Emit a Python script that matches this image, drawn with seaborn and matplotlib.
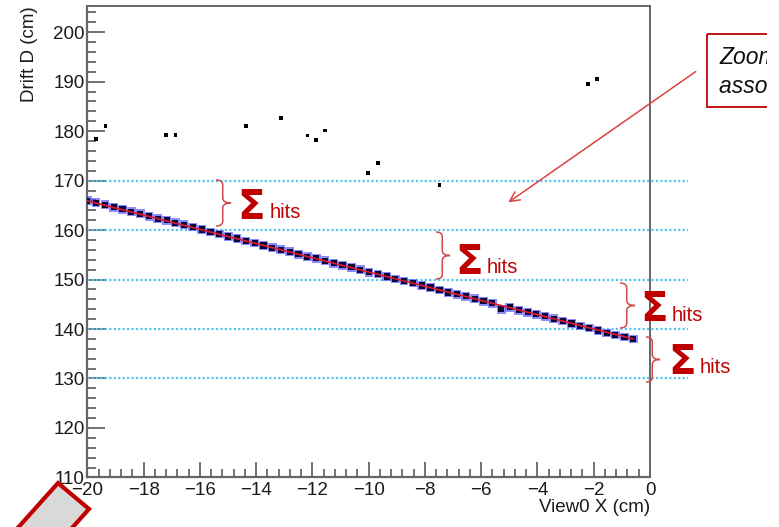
import numpy as np
import pandas as pd
import seaborn as sns
import matplotlib
matplotlib.use("Agg")
import matplotlib.pyplot as plt
from matplotlib.path import Path
from matplotlib.patches import PathPatch, Polygon, Rectangle, FancyArrowPatch
from matplotlib.transforms import Affine2D
from matplotlib.ticker import MultipleLocator

# ---- hits on the reconstructed track (View0 X vs drift distance) ----
track_x = [-20.00, -19.69, -19.37, -19.06, -18.75, -18.44, -18.12, -17.81, -17.50, -17.18,
           -16.87, -16.56, -16.25, -15.93, -15.62, -15.31, -14.99, -14.68, -14.37, -14.05,
           -13.74, -13.43, -13.12, -12.80, -12.49, -12.18, -11.86, -11.55, -11.24, -10.93,
           -10.61, -10.30, -9.99, -9.67, -9.36, -9.05, -8.74, -8.42, -8.11, -7.80,
           -7.48, -7.17, -6.86, -6.55, -6.23, -5.92, -5.61, -5.29, -4.98, -4.67,
           -4.35, -4.04, -3.73, -3.42, -3.10, -2.79, -2.48, -2.16, -1.85, -1.54,
           -1.23, -0.91, -0.60]
track_y = [165.9, 165.5, 165.1, 164.6, 164.2, 163.7, 163.3, 162.8, 162.3, 162.0,
           161.5, 161.1, 160.6, 160.1, 159.6, 159.2, 158.7, 158.3, 157.8, 157.4,
           156.9, 156.4, 156.0, 155.6, 155.1, 154.6, 154.3, 153.8, 153.3, 152.9,
           152.5, 152.0, 151.5, 151.1, 150.6, 150.1, 149.7, 149.3, 148.8, 148.4,
           147.9, 147.4, 147.0, 146.6, 146.1, 145.6, 145.2, 144.0, 144.4, 143.8,
           143.4, 143.0, 142.6, 142.1, 141.6, 141.1, 140.6, 140.2, 139.7, 139.2,
           138.8, 138.4, 138.0]

# ---- unassociated hits ----
noise_x = [-19.69, -19.35, -17.21, -16.86, -14.37, -13.12, -12.17, -11.87, -11.56,
           -10.02, -9.67, -7.48, -2.20, -1.88]
noise_y = [178.4, 181.0, 179.2, 179.2, 181.0, 182.7, 179.1, 178.2, 180.1,
           171.5, 173.6, 169.1, 189.5, 190.5]

# ---- straight-line fit through the track ----
fit_x = [-20.0, -0.6]
fit_y = [165.9, 138.0]

# ---- drift slices used for summing hits ----
slice_levels = [130, 140, 150, 160, 170]

track = pd.DataFrame({"x": track_x, "y": track_y})
noise = pd.DataFrame({"x": noise_x, "y": noise_y})
fit = pd.DataFrame({"x": fit_x, "y": fit_y})

sns.set_theme(style="white")
plt.rcParams["font.family"] = ["Liberation Sans", "DejaVu Sans"]

W, H = 779, 527
fig = plt.figure(figsize=(W / 100, H / 100), dpi=100)
fig.patch.set_facecolor("white")
# pixel coordinates with origin at top-left
pix = Affine2D().scale(1, -1).translate(0, H)

x0, x1, y0, y1 = 87.3, 650.0, 6.0, 477.4
ax = fig.add_axes([x0 / W, 1 - y1 / H, (x1 - x0) / W, (y1 - y0) / H])
ax.set_facecolor("white")

# slice boundaries
for lv in slice_levels:
    ax.axhline(lv, xmin=0, xmax=(688 - x0) / (x1 - x0), color="#55c6f0",
               linestyle=(0, (1, 1)), lw=1.6, clip_on=False, zorder=1)

sns.scatterplot(data=noise, x="x", y="y", marker="s", s=7, color="black",
                edgecolor="none", ax=ax, zorder=3)
sns.scatterplot(data=track, x="x", y="y", marker="s", s=40, color="#4040ff",
                alpha=0.6, edgecolor="none", ax=ax, zorder=3)
sns.scatterplot(data=track, x="x", y="y", marker="s", s=20, color="#0a0a38",
                edgecolor="none", ax=ax, zorder=4)
sns.lineplot(data=fit, x="x", y="y", color="#e0182c", lw=1.2, ax=ax, zorder=5)

ax.set_xlim(-20, 0)
ax.set_ylim(110, 205.3)
ax.xaxis.set_major_locator(MultipleLocator(2))
ax.xaxis.set_minor_locator(MultipleLocator(0.4))
ax.yaxis.set_major_locator(MultipleLocator(10))
ax.yaxis.set_minor_locator(MultipleLocator(2))
ax.set_xticks([t for t in range(-20, 1, 2)])
ax.set_yticks([t for t in range(110, 201, 10)])

tick_col = "#5a5a5a"
ax.tick_params(axis="y", which="major", direction="in", length=13, width=1.2,
               color=tick_col, labelsize=13.5, labelcolor="#1a1a1a", pad=2,
               left=True, right=False)
ax.tick_params(axis="y", which="minor", direction="in", length=6.5, width=1.2,
               color=tick_col, left=True, right=False)
ax.tick_params(axis="x", which="major", direction="in", length=11, width=1.2,
               color=tick_col, labelsize=13.5, labelcolor="#1a1a1a", pad=3,
               bottom=True, top=False)
ax.tick_params(axis="x", which="minor", direction="in", length=5.8, width=1.2,
               color=tick_col, bottom=True, top=False)
for side, lw in [("left", 1.6), ("bottom", 1.6), ("top", 1.4), ("right", 1.4)]:
    ax.spines[side].set_visible(True)
    ax.spines[side].set_color("#666666")
    ax.spines[side].set_linewidth(lw)

ax.set_xlabel("View0 X (cm)", fontsize=13.5, color="#1a1a1a", loc="right")
ax.set_ylabel("Drift D (cm)", fontsize=13.5, color="#1a1a1a", loc="top")
ax.xaxis.set_label_coords(1.0, -0.046)
ax.yaxis.set_label_coords(-0.087, 1.0)

# ---- curly braces with Σhits labels ----
red = "#c00000"


def brace(xl, yt, yb, w):
    xm = xl + w * 0.45
    ym = 0.5 * (yt + yb)
    r = 5
    verts = [(xl, yt), (xm, yt), (xm, yt + r),
             (xm, ym - r), (xm, ym), (xl + w, ym),
             (xm, ym), (xm, ym + r),
             (xm, yb - r), (xm, yb), (xl, yb)]
    codes = [Path.MOVETO, Path.CURVE3, Path.CURVE3,
             Path.LINETO, Path.CURVE3, Path.CURVE3,
             Path.CURVE3, Path.CURVE3,
             Path.LINETO, Path.CURVE3, Path.CURVE3]
    fig.patches.append(PathPatch(Path(verts, codes), transform=pix, fill=False,
                                 edgecolor="#d04848", lw=1.1))


brace_specs = [(216, 180, 226, 15), (436, 232, 279, 14),
               (620, 283, 328, 15), (646, 337, 382, 14)]
sigma_pos = [(237, 219), (455, 274), (640, 321), (668, 374)]
hits_pos = [(270, 218), (487, 273), (672, 321), (700, 373)]
for (bx, byt, byb, bw), (sx, sy), (hx, hy) in zip(brace_specs, sigma_pos, hits_pos):
    brace(bx, byt, byb, bw)
    fig.text(sx, sy, "Σ", transform=pix, fontsize=29, fontweight="bold",
             family="DejaVu Sans", color=red, ha="left", va="baseline")
    fig.text(hx, hy, "hits", transform=pix, fontsize=14.5, color=red,
             ha="left", va="baseline")

# ---- call-out box with arrow ----
fig.patches.append(FancyArrowPatch((698, 70), (506, 204), transform=pix,
                                   arrowstyle="->,head_length=7,head_width=3.5",
                                   color="#d84444", lw=1.1, mutation_scale=1))
fig.patches.append(Rectangle((707, 34), 120, 73, transform=pix, fill=False,
                             edgecolor=red, lw=1.3))
fig.text(719, 64, "Zoom in on", transform=pix, fontsize=16.5, style="italic",
         color="#111111", ha="left", va="baseline")
fig.text(719, 93, "associated hits", transform=pix, fontsize=16.5, style="italic",
         color="#111111", ha="left", va="baseline")
fig.patches.append(Rectangle((767, 0), 20, H, transform=pix, facecolor="white",
                             edgecolor="none", zorder=10))

# ---- tilted marker shape in the lower-left corner ----
fig.patches.append(Polygon([(58, 483), (89, 509), (29, 576), (-2, 550)], closed=True,
                           transform=pix, facecolor="#d9d9d9", edgecolor=red,
                           lw=3.0, zorder=2))

fig.savefig("out.png", dpi=100)
